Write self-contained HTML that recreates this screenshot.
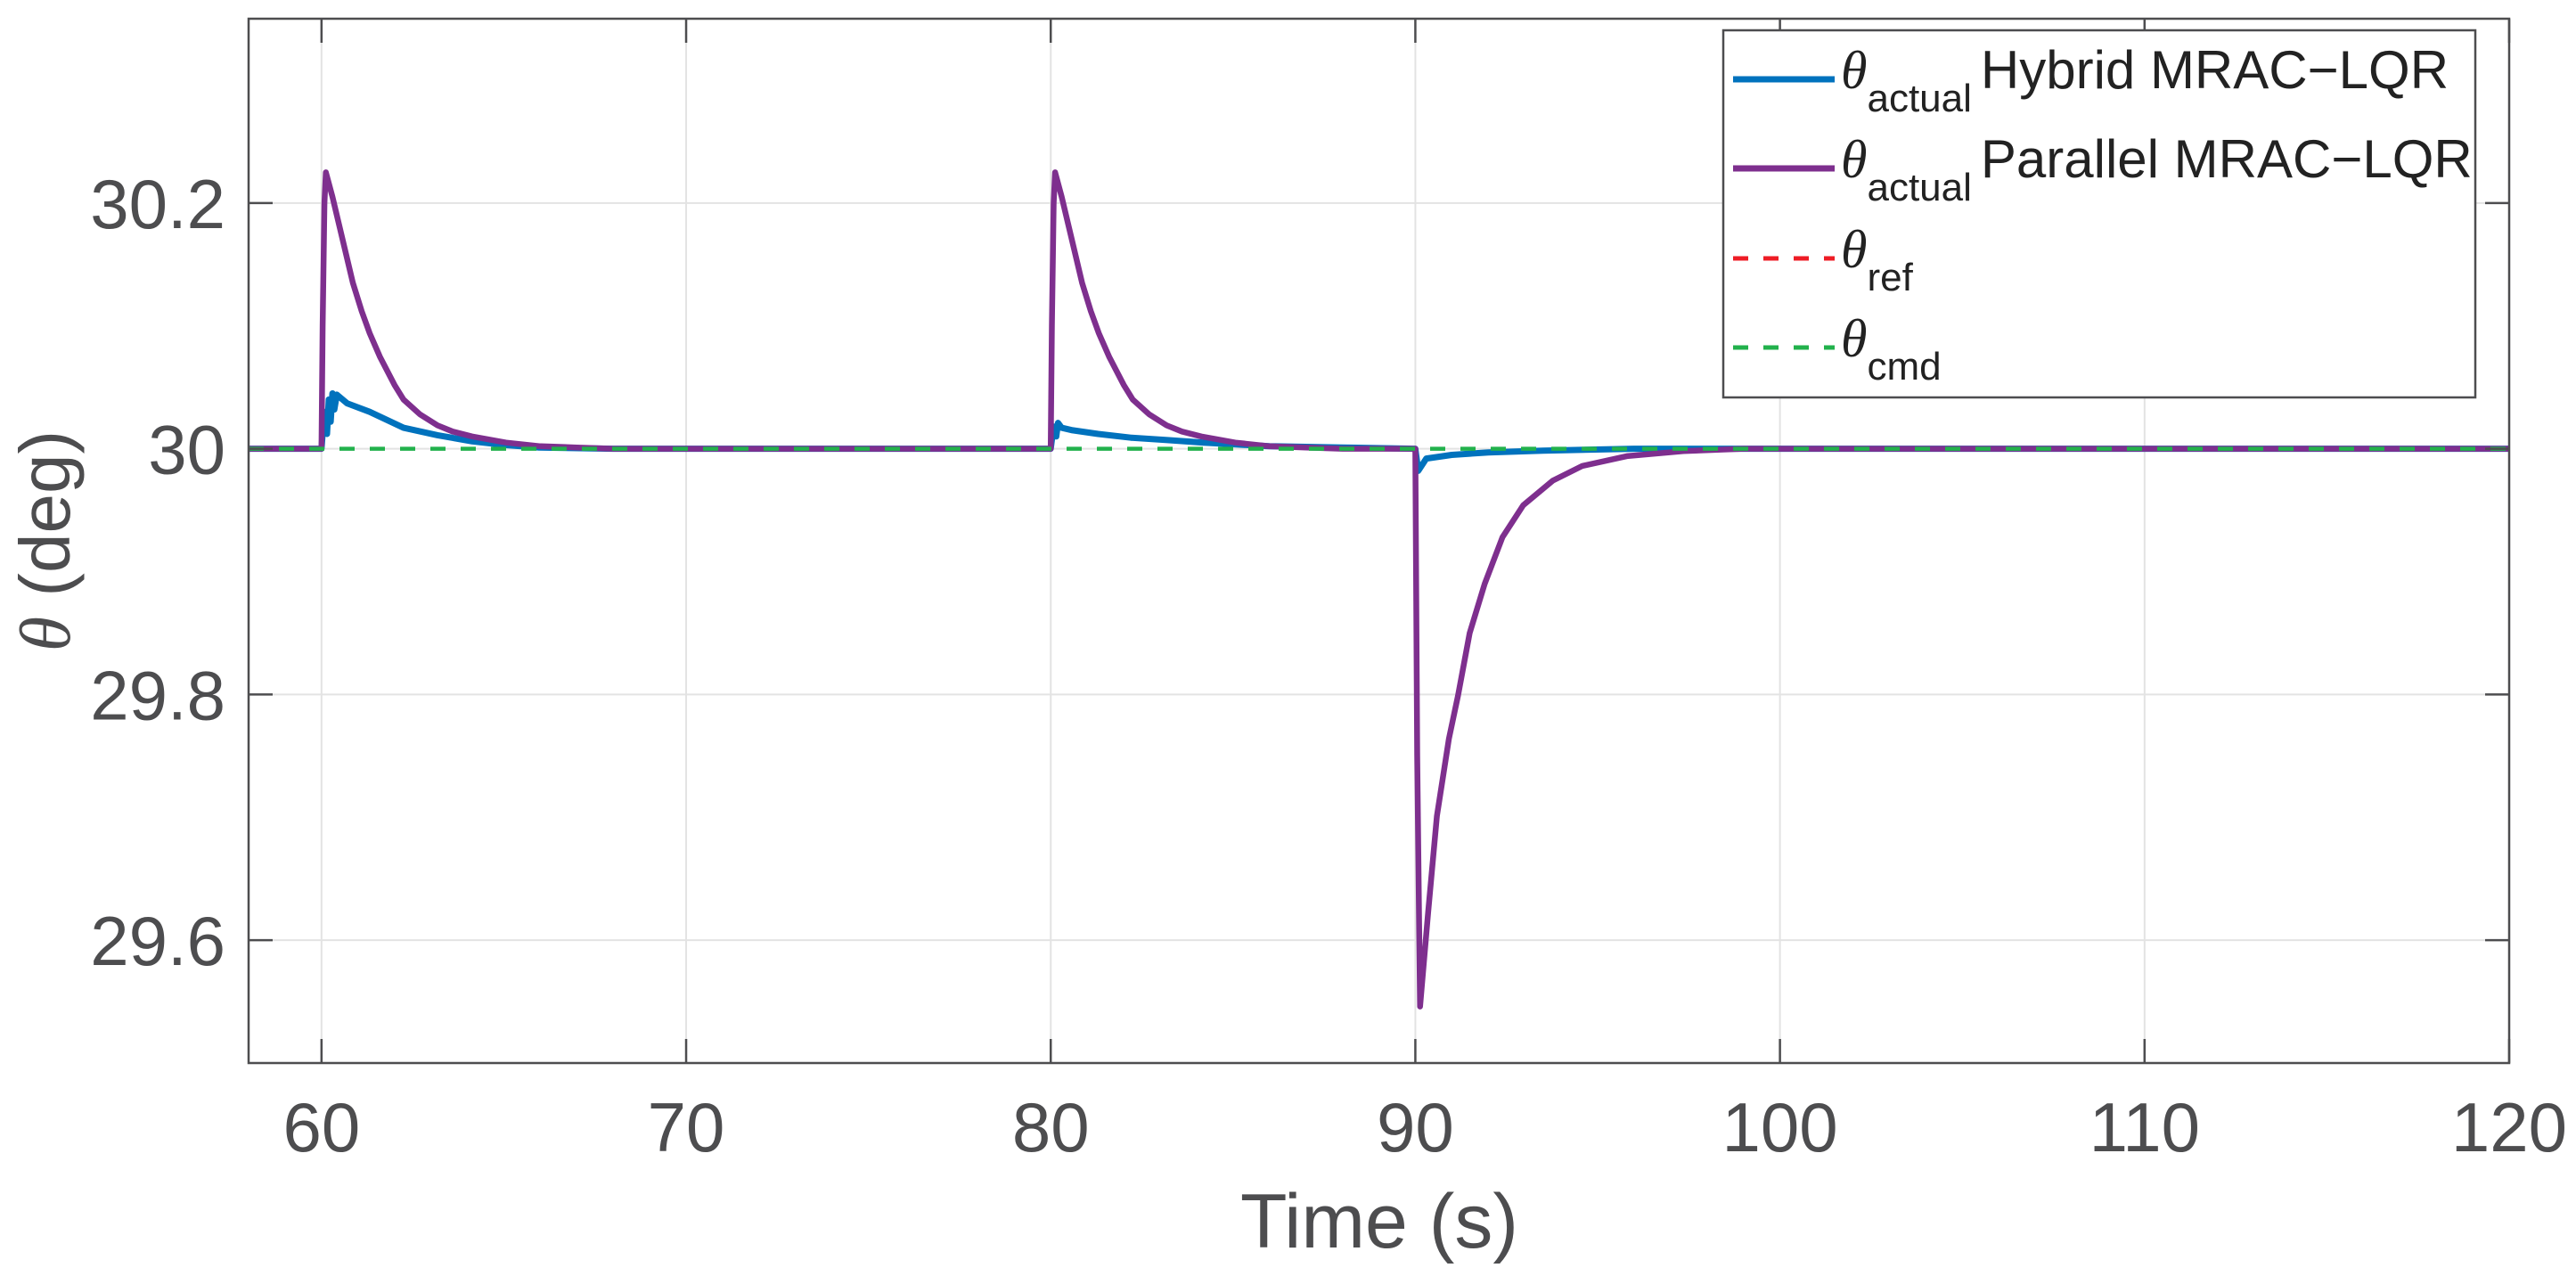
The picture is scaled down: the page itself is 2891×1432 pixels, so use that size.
<!DOCTYPE html>
<html><head><meta charset="utf-8"><style>
html,body{margin:0;padding:0;background:#fff;}
svg{display:block;font-family:"Liberation Sans",sans-serif;}
</style></head><body>
<svg id="chart" width="2891" height="1432" viewBox="0 0 2891 1432">
<g id="grid"></g>
<g id="series"></g>
<g id="axes"></g>
<text x="1548" y="1400" font-size="86" fill="#4d4d4f" text-anchor="middle">Time (s)</text>
<text transform="translate(78,607) rotate(-90)" font-size="80" fill="#4d4d4f" text-anchor="middle"><tspan font-style="italic" font-family="Liberation Serif">θ</tspan> (deg)</text>
<g>
<rect x="1934" y="34" width="844" height="412" fill="#fff" stroke="#4d4d4f" stroke-width="2.5"/>
<g>
<line x1="1945" y1="89" x2="2059" y2="89" stroke="#0072BD" stroke-width="7"/>
<text x="2066" y="99" font-size="60" fill="#222"><tspan font-style="italic" font-family="Liberation Serif">θ</tspan><tspan font-size="44" dy="26">actual</tspan><tspan dy="-26" dx="10">Hybrid MRAC−LQR</tspan></text>
</g>
<g>
<line x1="1945" y1="189" x2="2059" y2="189" stroke="#7E2F8E" stroke-width="7"/>
<text x="2066" y="199" font-size="60" fill="#222"><tspan font-style="italic" font-family="Liberation Serif">θ</tspan><tspan font-size="44" dy="26">actual</tspan><tspan dy="-26" dx="10">Parallel MRAC−LQR</tspan></text>
</g>
<g>
<line x1="1945" y1="290" x2="2059" y2="290" stroke="#EE1C25" stroke-width="5" stroke-dasharray="17,17"/>
<text x="2066" y="300" font-size="60" fill="#222"><tspan font-style="italic" font-family="Liberation Serif">θ</tspan><tspan font-size="44" dy="26">ref</tspan></text>
</g>
<g>
<line x1="1945" y1="390" x2="2059" y2="390" stroke="#22B14C" stroke-width="5" stroke-dasharray="17,17"/>
<text x="2066" y="400" font-size="60" fill="#222"><tspan font-style="italic" font-family="Liberation Serif">θ</tspan><tspan font-size="44" dy="26">cmd</tspan></text>
</g>
</g>
</svg>
<script>
const xTicks = [60, 70, 80, 90, 100, 110, 120];
const yTicks = [29.6, 29.8, 30, 30.2];
const yTickLabels = ["29.6", "29.8", "30", "30.2"];
const parallelT = [58, 60, 60.03, 60.08, 60.12, 60.3, 60.5, 60.86, 61.1, 61.32, 61.6, 62, 62.25, 62.7, 63.18, 63.6, 64.13, 65.06, 66, 67, 68,
  80, 80.03, 80.08, 80.12, 80.3, 80.5, 80.86, 81.1, 81.32, 81.6, 82, 82.25, 82.7, 83.18, 83.6, 84.13, 85.06, 86, 87, 88,
  90, 90.05, 90.13, 90.35, 90.59, 90.92, 91.17, 91.49, 91.9, 92.39, 92.96, 93.77, 94.58, 95.8, 97.35, 99, 120];
const parallelV = [30, 30, 30.1, 30.2, 30.225, 30.205, 30.18, 30.135, 30.112, 30.094, 30.075, 30.052, 30.04, 30.028, 30.019, 30.014, 30.01, 30.005, 30.002, 30.001, 30,
  30, 30.1, 30.2, 30.225, 30.205, 30.18, 30.135, 30.112, 30.094, 30.075, 30.052, 30.04, 30.028, 30.019, 30.014, 30.01, 30.005, 30.002, 30.001, 30,
  30, 29.75, 29.546, 29.622, 29.701, 29.764, 29.799, 29.85, 29.89, 29.928, 29.954, 29.974, 29.986, 29.994, 29.998, 30, 30];
const hybridT = [58, 60, 60.05, 60.1, 60.15, 60.2, 60.25, 60.3, 60.35, 60.42, 60.7, 61.32, 62.25, 63.18, 64.13, 65.06, 65.97, 68,
  80, 80.05, 80.1, 80.15, 80.2, 80.3, 80.6, 81.3, 82.2, 83.2, 84.2, 86, 88, 90,
  90.08, 90.3, 91, 92, 93.5, 96, 120];
const hybridV = [30, 30, 30.02, 30.03, 30.012, 30.04, 30.022, 30.045, 30.032, 30.044, 30.037, 30.03, 30.017, 30.011, 30.006, 30.003, 30.001, 30,
  30, 30.012, 30.018, 30.01, 30.021, 30.017, 30.015, 30.012, 30.009, 30.007, 30.005, 30.002, 30.001, 30,
  29.982, 29.992, 29.995, 29.997, 29.9985, 30, 30];
const refT = [58, 120];
const refV = [30, 30];
const cmdT = [58, 120];
const cmdV = [30, 30];

const L = 279, R = 2816, T = 21, B = 1193;
const xMin = 58, xMax = 120, yMin = 29.5, yMax = 30.35;
const sx = t => L + (t - xMin) / (xMax - xMin) * (R - L);
const sy = v => B - (v - yMin) / (yMax - yMin) * (B - T);
const NS = "http://www.w3.org/2000/svg";
const grid = document.getElementById('grid');
const axes = document.getElementById('axes');
const series = document.getElementById('series');
function mk(tag, attrs, parent) {
  const e = document.createElementNS(NS, tag);
  for (const k in attrs) e.setAttribute(k, attrs[k]);
  parent.appendChild(e);
  return e;
}
xTicks.forEach(t => {
  const x = sx(t);
  const g = mk('line', {x1: x, y1: T, x2: x, y2: B, stroke: '#e3e3e3', 'stroke-width': 2}, grid);
  
  
  const tk = mk('path', {d: `M${x},${B}v-27M${x},${T}v27`, stroke: '#4d4d4f', 'stroke-width': 2.5, fill: 'none'}, axes);
  
  
  const lb = mk('text', {x: x, y: 1292, 'font-size': 78, fill: '#4d4d4f', 'text-anchor': 'middle'}, axes);
  lb.textContent = String(t);
  
  
});
yTicks.forEach((v, i) => {
  const y = sy(v);
  const g = mk('line', {x1: L, y1: y, x2: R, y2: y, stroke: '#e3e3e3', 'stroke-width': 2}, grid);
  
  
  const tk = mk('path', {d: `M${L},${y}h27M${R},${y}h-27`, stroke: '#4d4d4f', 'stroke-width': 2.5, fill: 'none'}, axes);
  
  
  const lb = mk('text', {x: 253, y: y + 28, 'font-size': 78, fill: '#4d4d4f', 'text-anchor': 'end'}, axes);
  lb.textContent = yTickLabels[i];
  
  
});
const box = mk('rect', {x: L, y: T, width: R - L, height: B - T, fill: 'none', stroke: '#4d4d4f', 'stroke-width': 2.5}, axes);


function pts(ts, vs) { return ts.map((t, i) => sx(t).toFixed(1) + ',' + sy(vs[i]).toFixed(1)).join(' '); }
const pb = mk('polyline', {points: pts(hybridT, hybridV), fill: 'none', stroke: '#0072BD', 'stroke-width': 7, 'stroke-linejoin': 'round'}, series);


const pp = mk('polyline', {points: pts(parallelT, parallelV), fill: 'none', stroke: '#7E2F8E', 'stroke-width': 6.5, 'stroke-linejoin': 'round'}, series);


const pr = mk('polyline', {points: pts(refT, refV), fill: 'none', stroke: '#EE1C25', 'stroke-width': 4, 'stroke-dasharray': '17,17', opacity: 0}, series);


const pc = mk('polyline', {points: pts(cmdT, cmdV), fill: 'none', stroke: '#22B14C', 'stroke-width': 4.5, 'stroke-dasharray': '17,17'}, series);


</script>
</body></html>
